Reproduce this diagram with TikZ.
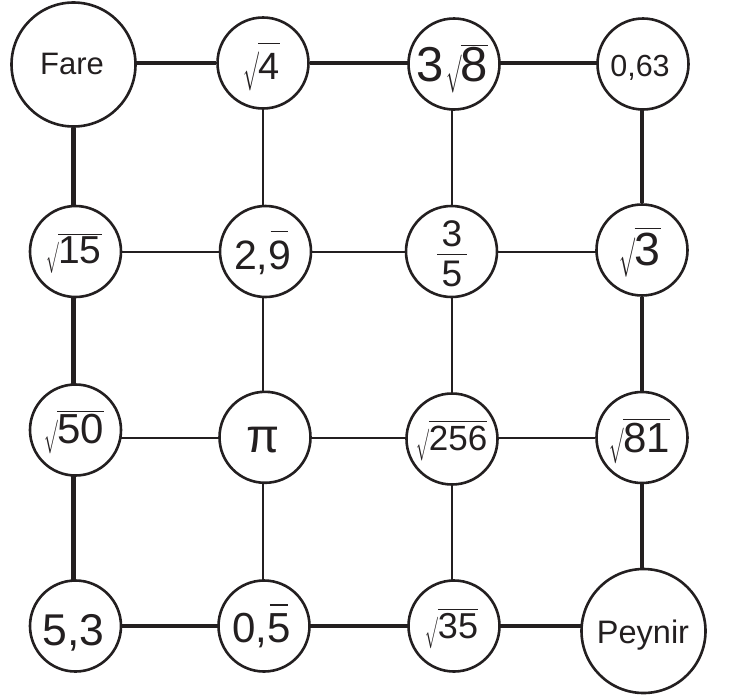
\documentclass[tikz,border=0pt]{standalone}
\usepackage{fontspec}
\usepackage{graphicx}
\setmainfont{Liberation Sans}
\definecolor{ink}{RGB}{35,31,32}
\newlength\rtH
\newcommand\rt[2][1pt]{%
  \setbox0=\hbox{#2}%
  \rtH=\ht0 \advance\rtH by #1\relax \advance\rtH by 2.9pt\relax
  \raisebox{-2pt}{\resizebox*{0.4\rtH}{\rtH}{$\surd$}}%
  \kern-0.6pt\vbox{\offinterlineskip\hrule height 0.9pt\kern#1\relax\box0}}
\newcommand\ovl[2][8pt]{%
  \setbox0=\hbox{#2}%
  \vbox{\offinterlineskip\hbox to\wd0{\hss\vrule width 0.78\wd0 height 1.8pt\hss}\kern#1\relax\box0}}
\newcommand\frc[3]{%
  \vbox{\offinterlineskip\hbox to #1{\hss#2\hss}\kern6.5pt\hrule height 1pt\kern6.5pt\hbox to #1{\hss#3\hss}}}
\newcommand\fs[1]{\fontsize{#1}{#1}\selectfont}
\pgfdeclarelayer{bg}
\pgfsetlayers{bg,main}
\tikzset{
  circ/.style={circle, draw=ink, line width=2.6pt, fill=white, inner sep=0pt, minimum size=91pt},
  bigcirc/.style={circ, minimum size=124pt},
  thickln/.style={draw=ink, line width=4.6pt},
  thinln/.style={draw=ink, line width=2pt},
  txt/.style={inner sep=0pt, text=ink}
}
\begin{document}
\begin{tikzpicture}[x=1pt,y=-1pt]
\useasboundingbox (0,0) rectangle (730,699);
% circles
\node[bigcirc] (fare) at (73.5,64.5) {};
\node[circ] (r4) at (263,63) {};
\node[circ] (c38) at (454,64) {};
\node[circ] (d63) at (643,64) {};
\node[circ] (s15) at (75.5,251.5) {};
\node[circ] (d29) at (265.5,251.5) {};
\node[circ] (f35) at (451.5,251.5) {};
\node[circ] (s3) at (642,250) {};
\node[circ] (s50) at (75.5,430) {};
\node[circ] (pi) at (265,437.3) {};
\node[circ] (s256) at (452,439) {};
\node[circ] (s81) at (642,437.5) {};
\node[circ] (d53) at (75.5,626) {};
\node[circ] (d05) at (264,626) {};
\node[circ] (s35) at (454,626) {};
\node[bigcirc] (peynir) at (643.5,631) {};
% texts
\node[txt] (tfare) at (72,64) {\fs{31}Fare};
\node[txt] (tr4) at (261.5,67) {\fs{38}\rt[10pt]{4}};
\node[txt] (tc38) at (452.5,69) {\fs{49}3\kern2pt\rt[1pt]{8}};
\node[txt] (td63) at (640,68) {\fs{30.5}0,63};
\node[txt] (ts15) at (74,254) {\fs{39}\rt[1.5pt]{15}};
\node[txt] (td29) at (262.5,252.5) {\fs{41}2,\ovl[8pt]{9}};
\node[txt] (tf35) at (452,254) {\fs{37}\frc{30pt}{3}{5}};
\node[txt] (ts3) at (640,252.5) {\fs{46.5}\rt[4pt]{3}};
\node[txt] (ts50) at (74,432.5) {\fs{42}\rt[1.5pt]{50}};
\node[txt] (tpi) at (263,440.5) {\fs{48}π};
\node[txt] (ts256) at (452,441) {\fs{35}\rt[4.5pt]{256}};
\node[txt] (ts81) at (640,441) {\fs{42}\rt[3.5pt]{81}};
\node[txt] (td53) at (73.5,632.5) {\fs{44.5}5,3};
\node[txt] (td05) at (261.5,626) {\fs{42}0,\ovl[7pt]{5}};
\node[txt] (ts35) at (452,629) {\fs{36}\rt[3.5pt]{35}};
\node[txt] (tpeynir) at (643,635) {\fs{32.5}Peynir};
% connectors
\begin{pgfonlayer}{bg}
\draw[thickln] (fare |- r4) -- (r4) -- (c38 |- r4) -- (d63 |- r4);
\draw[thickln] (fare) -- (fare |- s15) -- (fare |- s50) -- (fare |- d53);
\draw[thickln] (s3 |- d63) -- (s3) -- (s3 |- s81) -- (s3 |- peynir);
\draw[thickln] (d53) -- (d05 |- d53) -- (s35 |- d53) -- (peynir |- d53);
\draw[thinln] (r4) -- (r4 |- d29) -- (r4 |- pi) -- (r4 |- d05);
\draw[thinln] (s256 |- c38) -- (s256 |- f35) -- (s256) -- (s256 |- s35);
\draw[thinln] (s15) -- (d29 |- s15) -- (f35 |- s15) -- (s3 |- s15);
\draw[thinln] (s50 |- s81) -- (pi |- s81) -- (s256 |- s81) -- (s81);
\end{pgfonlayer}
\end{tikzpicture}
\end{document}
